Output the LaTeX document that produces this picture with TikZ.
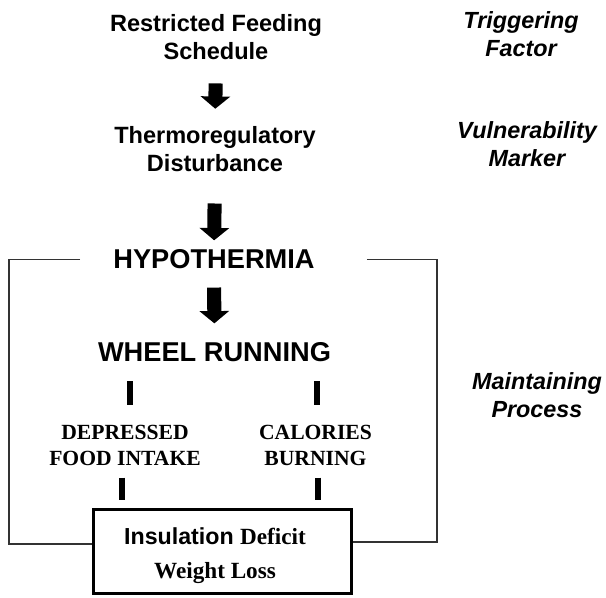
\documentclass[tikz,border=0pt]{standalone}
\usepackage{fontspec}
\setmainfont{Liberation Serif}
\setsansfont{Liberation Sans}
\usetikzlibrary{arrows.meta,calc}
\tikzset{
  stage/.style={font=\sffamily\bfseries\fontsize{13.4}{16.5}\selectfont, align=center, inner sep=0pt, anchor=base},
  bigstage/.style={font=\sffamily\bfseries\fontsize{15.5}{18}\selectfont, inner sep=0pt, anchor=base},
  role/.style={font=\sffamily\bfseries\itshape\fontsize{13.3}{16.5}\selectfont, align=center, inner sep=0pt, anchor=base},
  effect/.style={font=\rmfamily\bfseries\fontsize{12.3}{14.7}\selectfont, align=center, inner sep=0pt, anchor=base},
  outbox/.style={draw, line width=1.7pt, minimum width=146.3pt, minimum height=47.6pt, inner sep=0pt},
  boxtxt/.style={font=\rmfamily\bfseries\fontsize{13.2}{19.3}\selectfont, align=center, inner sep=0pt, anchor=base},
  blk/.style={draw, line width=8pt, -{Triangle[width=16.5pt,length=7pt]}},
  tick/.style={draw, line width=3.4pt},
  frame/.style={draw=black!80, line width=0.7pt}
}

\begin{document}
\begin{tikzpicture}[x=0.02cm, y=-0.02cm]
  \useasboundingbox (0,0) rectangle (606,598);
  % chain of stages (placed at the baseline of their last line)
  \node[stage] (feed) at (216,60) {Restricted Feeding\\Schedule};
  \node[stage] (therm) at (215,172) {Thermoregulatory\\Disturbance};
  \node[bigstage] (hypo) at (214,269) {HYPOTHERMIA};
  \node[bigstage] (wheel) at (214.5,361) {WHEEL RUNNING};
  \node[effect] (dep) at (125,465) {DEPRESSED\\FOOD INTAKE};
  \node[effect] (cal) at (315.5,465) {CALORIES\\BURNING};
  \node[outbox] (box) at (222.5,551.5) {};
  \node[boxtxt] (loss) at (215,578) {\sffamily Insulation \rmfamily Deficit\\Weight Loss};
  % roles on the right
  \node[role] (trig) at (521,57) {Triggering\\Factor};
  \node[role] (vuln) at (527,167) {Vulnerability\\Marker};
  \node[role] (maint) at (537,418) {Maintaining\\Process};

  \draw[blk, shorten <=13pt, shorten >=9.6pt] (feed.south) -- (therm.north);
  \draw[blk, shorten <=17.6pt, shorten >=5.3pt] (therm.south) -- (hypo.north);
  \draw[blk, shorten <=10.2pt, shorten >=10.4pt] (hypo.south) -- (wheel.north);

  \draw[tick, shorten <=11.3pt, shorten >=11.3pt] ([xshift=2.8pt]dep.north) -- ([xshift=2.8pt]dep.north |- wheel.south);
  \draw[tick, shorten <=11.3pt, shorten >=11.3pt] ([xshift=0.8pt]cal.north) -- ([xshift=0.8pt]cal.north |- wheel.south);
  \draw[tick, shorten <=6.8pt, shorten >=4.5pt] ([xshift=-1.7pt]dep.south) -- ([xshift=-1.7pt]dep.south |- box.north);
  \draw[tick, shorten <=6.8pt, shorten >=4.5pt] ([xshift=1.4pt]cal.south) -- ([xshift=1.4pt]cal.south |- box.north);

  % feedback loop
  \coordinate (fl) at (9,544);
  \coordinate (fr) at (437,542);
  \draw[frame, shorten <=18.7pt] (hypo.west) -| (fl) -- (fl -| box.west);
  \draw[frame, shorten <=29.5pt] (hypo.east) -| (fr) -- (fr -| box.east);
\end{tikzpicture}
\end{document}
